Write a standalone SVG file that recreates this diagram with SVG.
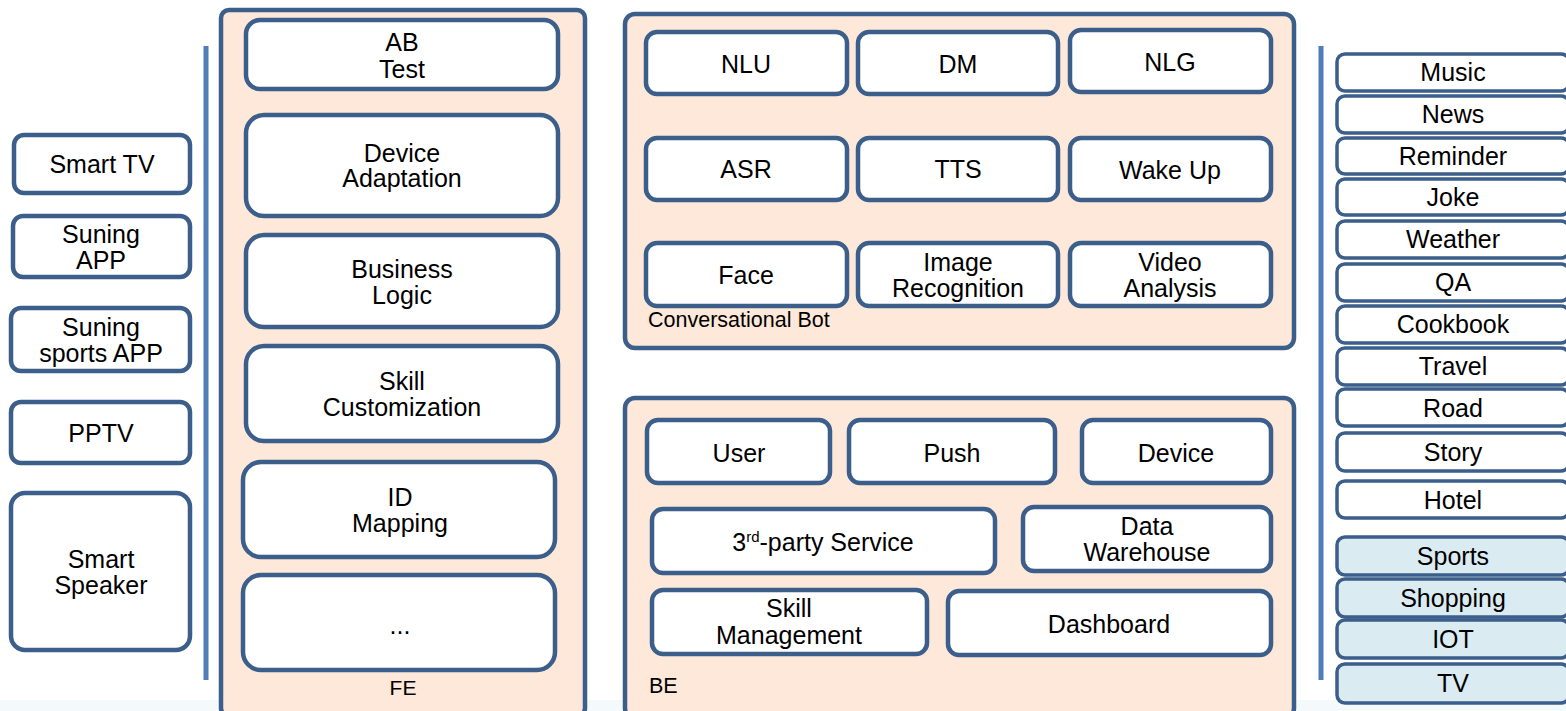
<svg xmlns="http://www.w3.org/2000/svg" width="1566" height="711" viewBox="0 0 1566 711">
<style>
text{font-family:"Liberation Sans",Arial,sans-serif;fill:#000;text-anchor:middle;font-size:25px}
.lbl{font-size:21.5px;text-anchor:start}
.lblc{font-size:21px}
.box{fill:#fff;stroke:#3B5E8A;stroke-width:4.5}
.cont{fill:#FDE8D9;stroke:#3B5E8A;stroke-width:4.5}
.sk{fill:#fff;stroke:#3B5E8A;stroke-width:3.5}
.sk2{fill:#DAEBF1;stroke:#3B5E8A;stroke-width:3.5}
.vl{stroke:#4F7DB8;stroke-width:5;fill:none}
</style>
<rect x="0" y="0" width="1566" height="711" fill="#fff"/>
<rect x="0" y="700" width="1566" height="11" fill="#F4FAFB"/>

<g id="connectors">
<line class="vl" x1="206" y1="46" x2="206" y2="680"/>
<line class="vl" x1="1321" y1="46" x2="1321" y2="680"/>
</g>

<g id="clients">
<g id="smart-tv"><rect class="box" x="14" y="135" width="176" height="58" rx="10"/><text x="102" y="173">Smart TV</text></g>
<g id="suning-app"><rect class="box" x="13" y="216" width="177" height="61" rx="10"/><text x="101" y="243">Suning</text><text x="101" y="269">APP</text></g>
<g id="suning-sports-app"><rect class="box" x="11" y="308" width="179" height="63" rx="10"/><text x="101" y="336">Suning</text><text x="101" y="362">sports APP</text></g>
<g id="pptv"><rect class="box" x="11" y="402" width="179" height="61" rx="10"/><text x="101" y="442">PPTV</text></g>
<g id="smart-speaker"><rect class="box" x="11" y="493" width="179" height="157" rx="14"/><text x="101" y="568">Smart</text><text x="101" y="594">Speaker</text></g>
</g>

<g id="fe">
<rect class="cont" x="221" y="10" width="364" height="706" rx="8"/>
<text class="lblc" x="403" y="695">FE</text>
<g id="ab-test"><rect class="box" x="246" y="20" width="312" height="69" rx="14"/><text x="402" y="51">AB</text><text x="402" y="78">Test</text></g>
<g id="device-adaptation"><rect class="box" x="246" y="115" width="312" height="101" rx="18"/><text x="402" y="162">Device</text><text x="402" y="187">Adaptation</text></g>
<g id="business-logic"><rect class="box" x="246" y="235" width="312" height="92" rx="18"/><text x="402" y="278">Business</text><text x="402" y="304">Logic</text></g>
<g id="skill-customization"><rect class="box" x="246" y="346" width="312" height="95" rx="18"/><text x="402" y="390">Skill</text><text x="402" y="416">Customization</text></g>
<g id="id-mapping"><rect class="box" x="243" y="462" width="312" height="95" rx="18"/><text x="400" y="506">ID</text><text x="400" y="532">Mapping</text></g>
<g id="more"><rect class="box" x="243" y="575" width="312" height="95" rx="18"/><text x="400" y="634">...</text></g>
</g>

<g id="conversational-bot">
<rect class="cont" x="625" y="14" width="669" height="334" rx="10"/>
<text class="lbl" x="648" y="327">Conversational Bot</text>
<g id="nlu"><rect class="box" x="646" y="32" width="201" height="62" rx="11"/><text x="746" y="73">NLU</text></g>
<g id="dm"><rect class="box" x="858" y="32" width="200" height="62" rx="11"/><text x="958" y="73">DM</text></g>
<g id="nlg"><rect class="box" x="1070" y="30" width="201" height="62" rx="11"/><text x="1170" y="71">NLG</text></g>
<g id="asr"><rect class="box" x="646" y="138" width="201" height="62" rx="11"/><text x="746" y="178">ASR</text></g>
<g id="tts"><rect class="box" x="858" y="138" width="200" height="62" rx="11"/><text x="958" y="178">TTS</text></g>
<g id="wake-up"><rect class="box" x="1070" y="138" width="201" height="62" rx="11"/><text x="1170" y="179">Wake Up</text></g>
<g id="face"><rect class="box" x="646" y="243" width="201" height="63" rx="11"/><text x="746" y="284">Face</text></g>
<g id="image-recognition"><rect class="box" x="858" y="243" width="200" height="63" rx="11"/><text x="958" y="271">Image</text><text x="958" y="297">Recognition</text></g>
<g id="video-analysis"><rect class="box" x="1070" y="243" width="201" height="63" rx="11"/><text x="1170" y="271">Video</text><text x="1170" y="297">Analysis</text></g>
</g>

<g id="be">
<rect class="cont" x="625" y="398" width="669" height="320" rx="10"/>
<text class="lbl" x="649" y="693">BE</text>
<g id="user"><rect class="box" x="647" y="420" width="183" height="63" rx="11"/><text x="739" y="462">User</text></g>
<g id="push"><rect class="box" x="849" y="420" width="206" height="63" rx="11"/><text x="952" y="462">Push</text></g>
<g id="device"><rect class="box" x="1082" y="420" width="189" height="63" rx="11"/><text x="1176" y="462">Device</text></g>
<g id="third-party"><rect class="box" x="652" y="509" width="343" height="64" rx="11"/><text x="823" y="551">3<tspan font-size="15" dy="-9">rd</tspan><tspan dy="9">-party Service</tspan></text></g>
<g id="data-warehouse"><rect class="box" x="1023" y="507" width="248" height="64" rx="11"/><text x="1147" y="535">Data</text><text x="1147" y="561">Warehouse</text></g>
<g id="skill-management"><rect class="box" x="652" y="590" width="275" height="64" rx="11"/><text x="789" y="617">Skill</text><text x="789" y="644">Management</text></g>
<g id="dashboard"><rect class="box" x="948" y="591" width="323" height="64" rx="11"/><text x="1109" y="633">Dashboard</text></g>
</g>

<g id="skills">
<g id="music"><rect class="sk" x="1337" y="54" width="232" height="37" rx="8"/><text x="1453" y="81">Music</text></g>
<g id="news"><rect class="sk" x="1337" y="96" width="232" height="37" rx="8"/><text x="1453" y="123">News</text></g>
<g id="reminder"><rect class="sk" x="1337" y="138" width="232" height="36" rx="8"/><text x="1453" y="165">Reminder</text></g>
<g id="joke"><rect class="sk" x="1337" y="179" width="232" height="36" rx="8"/><text x="1453" y="206">Joke</text></g>
<g id="weather"><rect class="sk" x="1337" y="221" width="232" height="37" rx="8"/><text x="1453" y="248">Weather</text></g>
<g id="qa"><rect class="sk" x="1337" y="264" width="232" height="37" rx="8"/><text x="1453" y="291">QA</text></g>
<g id="cookbook"><rect class="sk" x="1337" y="306" width="232" height="37" rx="8"/><text x="1453" y="333">Cookbook</text></g>
<g id="travel"><rect class="sk" x="1337" y="348" width="232" height="37" rx="8"/><text x="1453" y="375">Travel</text></g>
<g id="road"><rect class="sk" x="1337" y="389" width="232" height="37" rx="8"/><text x="1453" y="417">Road</text></g>
<g id="story"><rect class="sk" x="1337" y="433" width="232" height="38" rx="8"/><text x="1453" y="461">Story</text></g>
<g id="hotel"><rect class="sk" x="1337" y="481" width="232" height="37" rx="8"/><text x="1453" y="509">Hotel</text></g>
<g id="sports"><rect class="sk2" x="1337" y="537" width="232" height="38" rx="8"/><text x="1453" y="565">Sports</text></g>
<g id="shopping"><rect class="sk2" x="1337" y="579" width="232" height="38" rx="8"/><text x="1453" y="607">Shopping</text></g>
<g id="iot"><rect class="sk2" x="1337" y="620" width="232" height="38" rx="8"/><text x="1453" y="648">IOT</text></g>
<g id="tv"><rect class="sk2" x="1337" y="664" width="232" height="39" rx="8"/><text x="1453" y="692">TV</text></g>
</g>
</svg>
